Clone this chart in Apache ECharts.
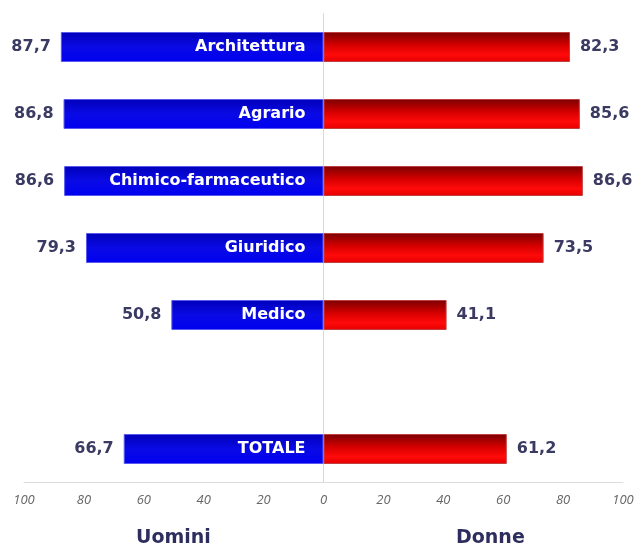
<!DOCTYPE html>
<html><head><meta charset="utf-8">
<script src="https://cdn.jsdelivr.net/npm/echarts@6/dist/echarts.min.js"></script>
<style>html,body{margin:0;padding:0;background:#fff}#c{width:638px;height:554px}</style>
</head><body><div id="c"></div>
<script>
const categories = ['Architettura','Agrario','Chimico-farmaceutico','Giuridico','Medico','','TOTALE'];
const uomini = [87.7, 86.8, 86.6, 79.3, 50.8, null, 66.7];
const donne = [82.3, 85.6, 86.6, 73.5, 41.1, null, 61.2];
const ticks = [-100,-80,-60,-40,-20,0,20,40,60,80,100];

const fmt = v => String(Math.abs(v)).replace('.', ',');
const chart = echarts.init(document.getElementById('c'));
chart.setOption({
  animation: false,
  backgroundColor: '#fff',
  grid: {left: 24, right: 15, top: 13.5, bottom: 71.5, containLabel: false, outerBoundsMode: 'none'},
  xAxis: {
    type: 'value', min: -100, max: 100, interval: 20,
    axisLine: {show: true, lineStyle: {color: '#dcdcdc', width: 1}},
    axisTick: {show: false},
    splitLine: {show: false},
    axisLabel: {
      formatter: v => String(Math.abs(v)),
      color: '#666', fontStyle: 'italic', fontSize: 13, fontFamily: 'Open Sans', margin: 11
    }
  },
  yAxis: {
    type: 'category', data: categories, inverse: true,
    axisLine: {show: true, onZero: true, lineStyle: {color: '#d8d8d8', width: 1}},
    axisTick: {show: false},
    axisLabel: {show: false}
  },
  series: [
    {
      name: 'Uomini', type: 'bar', stack: 's', barWidth: 30,
      data: uomini.map(v => v == null ? null : -v),
      itemStyle: {
        color: new echarts.graphic.LinearGradient(0,0,0,1,[
          {offset:0,color:'#0000b8'},{offset:0.5,color:'#0a0ae6'},{offset:1,color:'#0000f0'}
        ]),
        borderColor: '#5a5af0', borderWidth: 1
      },
      label: {
        show: true, position: 'left', distance: 10,
        formatter: p => fmt(p.value),
        color: '#3a3a62', fontWeight: 'bold', fontSize: 16, fontFamily: 'DejaVu Sans'
      }
    },
    {
      name: 'Donne', type: 'bar', stack: 's', barWidth: 30,
      data: donne,
      itemStyle: {
        color: new echarts.graphic.LinearGradient(0,0,0,1,[
          {offset:0,color:'#7a0000'},{offset:0.45,color:'#d80000'},{offset:0.75,color:'#ff0a0a'},{offset:1,color:'#e60000'}
        ]),
        borderColor: '#c04040', borderWidth: 1
      },
      label: {
        show: true, position: 'right', distance: 10,
        formatter: p => fmt(p.value),
        color: '#3a3a62', fontWeight: 'bold', fontSize: 16, fontFamily: 'DejaVu Sans'
      }
    },
    {
      name: 'cat', type: 'scatter', z: 10, symbolSize: 0, silent: true,
      itemStyle: {color: '#0000e0', opacity: 1},
      data: categories.map(c => [0, c]),
      label: {
        show: true, position: 'left', distance: 18,
        formatter: p => p.value[1],
        color: '#ffffff', fontWeight: 'bold', fontSize: 16, fontFamily: 'DejaVu Sans'
      }
    }
  ],
  graphic: [
    {type: 'text', left: 136, top: 529, style: {text: 'Uomini', fill: '#2e2e5e', font: 'bold 19px "DejaVu Sans"'}},
    {type: 'text', left: 456, top: 529, style: {text: 'Donne', fill: '#2e2e5e', font: 'bold 19px "DejaVu Sans"'}}
  ]
});
</script></body></html>
